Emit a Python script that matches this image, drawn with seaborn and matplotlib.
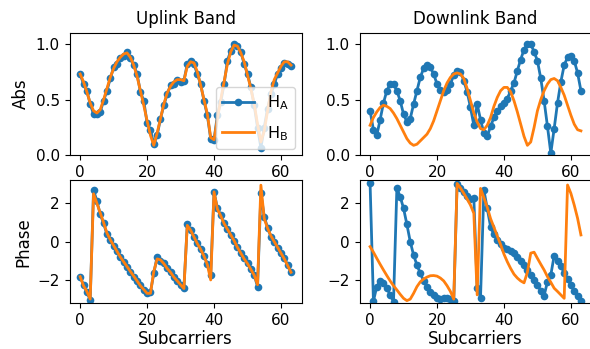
import numpy as np
import pandas as pd
import matplotlib
matplotlib.use("Agg")
import matplotlib.pyplot as plt
import seaborn as sns

subcarriers = np.arange(64)

# Uplink band, amplitude
up_abs_a = [0.73, 0.64, 0.58, 0.46, 0.37, 0.375, 0.39, 0.49, 0.58, 0.69,
            0.79, 0.82, 0.87, 0.89, 0.93, 0.87, 0.81, 0.73, 0.57, 0.49,
            0.29, 0.23, 0.10, 0.18, 0.33, 0.45, 0.55, 0.63, 0.64, 0.68,
            0.66, 0.67, 0.82, 0.85, 0.82, 0.73, 0.64, 0.49, 0.36, 0.15,
            0.14, 0.36, 0.48, 0.64, 0.85, 0.94, 1.00, 0.98, 0.93, 0.82,
            0.73, 0.61, 0.45, 0.25, 0.07, 0.25, 0.42, 0.55, 0.64, 0.73,
            0.78, 0.83, 0.82, 0.80]
up_abs_b = [0.73, 0.66, 0.57, 0.47, 0.40, 0.38, 0.41, 0.50, 0.60, 0.70,
            0.78, 0.84, 0.88, 0.91, 0.92, 0.88, 0.81, 0.71, 0.58, 0.45,
            0.31, 0.18, 0.09, 0.20, 0.33, 0.46, 0.56, 0.62, 0.66, 0.68,
            0.68, 0.67, 0.80, 0.84, 0.83, 0.75, 0.63, 0.50, 0.37, 0.16,
            0.14, 0.33, 0.50, 0.66, 0.82, 0.93, 0.99, 0.98, 0.92, 0.84,
            0.72, 0.60, 0.46, 0.28, 0.12, 0.22, 0.40, 0.57, 0.68, 0.74,
            0.80, 0.84, 0.84, 0.81]

# Downlink band, amplitude
down_abs_a = [0.40, 0.23, 0.18, 0.32, 0.47, 0.58, 0.64, 0.64, 0.58, 0.49,
              0.37, 0.30, 0.33, 0.46, 0.58, 0.70, 0.78, 0.81, 0.79, 0.73,
              0.64, 0.59, 0.57, 0.59, 0.64, 0.72, 0.76, 0.75, 0.67, 0.57,
              0.43, 0.27, 0.46, 0.32, 0.20, 0.17, 0.26, 0.34, 0.40, 0.44,
              0.47, 0.51, 0.58, 0.65, 0.76, 0.86, 0.95, 1.00, 1.00, 0.93,
              0.85, 0.69, 0.49, 0.26, 0.02, 0.24, 0.47, 0.66, 0.81, 0.88,
              0.89, 0.85, 0.74, 0.58]
down_abs_b = [0.27, 0.34, 0.39, 0.43, 0.45, 0.44, 0.42, 0.38, 0.33, 0.27,
              0.21, 0.15, 0.11, 0.09, 0.10, 0.13, 0.16, 0.19, 0.24, 0.31,
              0.40, 0.49, 0.58, 0.65, 0.70, 0.73, 0.74, 0.73, 0.69, 0.60,
              0.49, 0.38, 0.30, 0.24, 0.23, 0.27, 0.34, 0.44, 0.52, 0.58,
              0.61, 0.61, 0.57, 0.49, 0.39, 0.28, 0.17, 0.09, 0.12, 0.25,
              0.40, 0.50, 0.58, 0.64, 0.68, 0.69, 0.67, 0.61, 0.54, 0.45,
              0.36, 0.28, 0.23, 0.22]

# Uplink band, phase
up_ph_a = [-1.83, -2.26, -2.64, -3.04, 2.70, 2.12, 1.43, 0.96, 0.38, 0.09,
           -0.21, -0.49, -0.78, -1.04, -1.30, -1.57, -1.83, -2.05, -2.26, -2.52,
           -2.70, -2.64, -1.65, -0.78, -1.00, -1.13, -1.36, -1.60, -1.83, -2.05,
           -2.26, -2.43, 0.90, 0.61, 0.26, -0.09, -0.38, -0.73, -1.18, -1.74,
           2.61, 1.74, 1.39, 0.96, 0.66, 0.35, 0.03, -0.26, -0.61, -0.87,
           -1.13, -1.43, -1.74, -2.35, 2.52, 1.30, 0.73, 0.26, 0.00, -0.31,
           -0.61, -0.87, -1.22, -1.60]
up_ph_b = [-1.83, -2.30, -2.60, -3.00, 2.50, 2.00, 1.50, 1.00, 0.45, 0.10,
           -0.20, -0.50, -0.80, -1.05, -1.30, -1.55, -1.80, -2.05, -2.30, -2.50,
           -2.70, -2.70, -1.55, -0.90, -0.95, -1.15, -1.40, -1.60, -1.85, -2.05,
           -2.25, -2.45, 0.85, 0.60, 0.25, -0.10, -0.40, -0.75, -1.20, -2.00,
           2.60, 1.70, 1.35, 0.95, 0.65, 0.35, 0.05, -0.30, -0.60, -0.90,
           -1.15, -1.45, -1.75, -2.25, 2.95, 1.20, 0.70, 0.30, 0.00, -0.30,
           -0.60, -0.90, -1.25, -1.60]

# Downlink band, phase
down_ph_a = [3.04, -3.10, -2.35, -2.05, -2.17, -2.43, -2.78, -3.13, 2.78, 2.35,
             1.74, 0.90, 0.00, -0.70, -1.22, -1.65, -2.05, -2.35, -2.61, -2.78,
             -2.92, -2.99, -2.96, -2.96, -2.99, -3.10, 2.99, 2.78, 2.57, 2.40,
             2.23, 2.26, -2.40, -2.92, 2.70, 1.74, 0.78, 0.38, 0.09, -0.14,
             -0.31, -0.38, -0.49, -0.61, -0.78, -1.00, -1.22, -1.48, -1.74, -2.00,
             -2.26, -2.57, -2.82, -2.09, -1.74, -0.73, -1.00, -1.25, -1.65, -1.95,
             -2.26, -2.57, -2.82, -3.10]
down_ph_b = [-0.26, -0.55, -0.87, -1.18, -1.48, -1.77, -2.05, -2.30, -2.52, -2.75,
             -2.96, -3.08, -3.00, -2.70, -2.35, -2.10, -1.95, -1.85, -1.78, -1.77,
             -1.80, -1.90, -2.05, -2.30, -2.60, -3.00, 3.04, 2.80, 2.52, 2.22,
             1.91, 1.48, -2.78, 2.78, 2.30, 1.80, 1.20, 0.75, 0.30, -0.15,
             -0.65, -1.05, -1.40, -1.70, -1.90, -2.05, -2.15, -1.60, -0.60, -0.55,
             -0.87, -1.18, -1.48, -1.83, -2.12, -2.43, -2.60, -2.78, -2.96, 2.96,
             2.52, 1.91, 1.22, 0.35]

blue = '#1f77b4'
orange = '#ff7f0e'

fig, axes = plt.subplots(2, 2, figsize=(5.9, 3.49), dpi=100)
fig.subplots_adjust(left=0.118, right=1.0025, top=0.906, bottom=0.132,
                    wspace=0.25, hspace=0.204)

panels = [
    (axes[0, 0], up_abs_a, up_abs_b),
    (axes[0, 1], down_abs_a, down_abs_b),
    (axes[1, 0], up_ph_a, up_ph_b),
    (axes[1, 1], down_ph_a, down_ph_b),
]

for ax, ya, yb in panels:
    sns.lineplot(x=subcarriers, y=ya, ax=ax, color=blue, linewidth=2,
                 marker='o', markersize=5.5, markeredgecolor=blue,
                 markeredgewidth=0, label='H$_\\mathregular{A}$')
    sns.lineplot(x=subcarriers, y=yb, ax=ax, color=orange, linewidth=2,
                 label='H$_\\mathregular{B}$')
    ax.set_xticks([0, 20, 40, 60])
    ax.tick_params(labelsize=11)
    ax.get_legend().remove()

for ax in axes[0]:
    ax.set_ylim(0, 1.1)
    ax.set_yticks([0.0, 0.5, 1.0])
for ax in axes[1]:
    ax.set_ylim(-3.2, 3.2)
    ax.set_yticks([-2, 0, 2])
    ax.set_xlabel('Subcarriers', fontsize=12, labelpad=2)

axes[0, 0].set_title('Uplink Band', fontsize=12)
axes[0, 1].set_title('Downlink Band', fontsize=12)
axes[0, 0].set_ylabel('Abs', fontsize=12)
axes[1, 0].set_ylabel('Phase', fontsize=12)

axes[0, 0].legend(loc='lower right', fontsize=11.5, labelspacing=0.75,
                  borderaxespad=0.4)

fig.savefig('out.png', dpi=100)
